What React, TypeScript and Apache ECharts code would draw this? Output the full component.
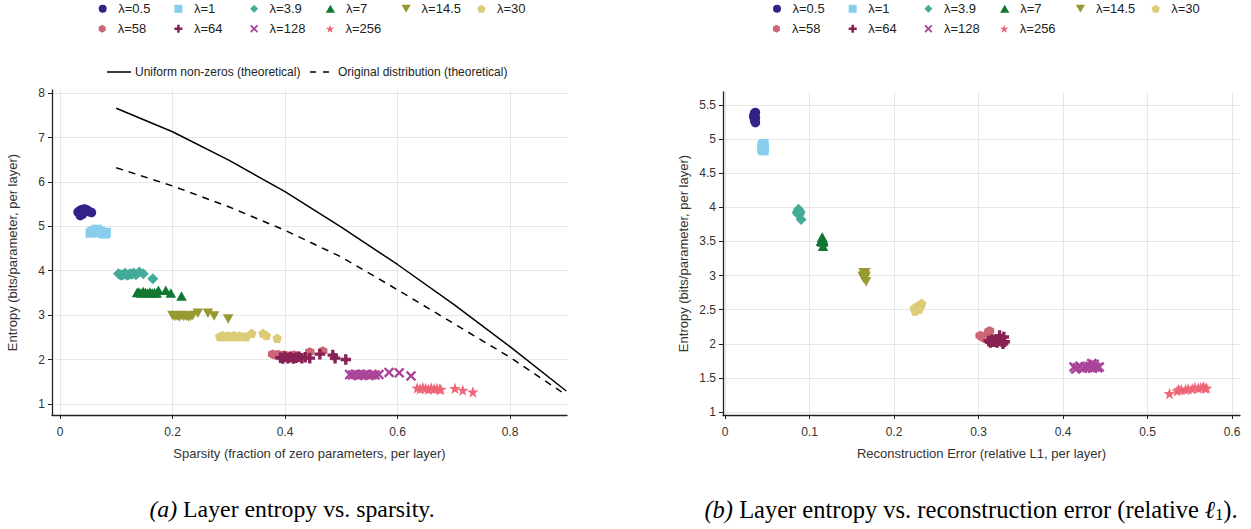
import React, { useEffect, useRef } from 'react';
import * as echarts from 'echarts';

// ---------- data ----------
const lambdaNames = ['λ=0.5', 'λ=1', 'λ=3.9', 'λ=7', 'λ=14.5', 'λ=30', 'λ=58', 'λ=64', 'λ=128', 'λ=256'];
const colors = ['#332288', '#88CCEE', '#44AA99', '#117733', '#999933', '#DDCC77', '#CC6677', '#882255', '#AA4499', '#EE6677'];

const sparsity05 = [0.032, 0.036, 0.04, 0.044, 0.048, 0.052, 0.056, 0.04, 0.045, 0.036];
const entropy05 = [5.32, 5.36, 5.38, 5.39, 5.37, 5.33, 5.31, 5.27, 5.34, 5.24];
const error05 = [0.034, 0.035, 0.035, 0.036, 0.035, 0.035, 0.036, 0.035, 0.034, 0.036];

const sparsity1 = [0.054, 0.057, 0.06, 0.062, 0.064, 0.066, 0.068, 0.07, 0.072, 0.076, 0.08, 0.082];
const entropy1 = [4.85, 4.88, 4.9, 4.87, 4.92, 4.93, 4.9, 4.86, 4.88, 4.84, 4.83, 4.86];
const error1 = [0.044, 0.045, 0.045, 0.046, 0.045, 0.046, 0.044, 0.045, 0.046, 0.045, 0.046, 0.044];

const sparsity39 = [0.104, 0.107, 0.11, 0.113, 0.116, 0.119, 0.122, 0.125, 0.128, 0.131, 0.135, 0.141, 0.148, 0.165];
const entropy39 = [3.93, 3.91, 3.9, 3.92, 3.94, 3.9, 3.91, 3.93, 3.92, 3.95, 3.91, 3.97, 3.93, 3.82];
const error39 = [0.086, 0.086, 0.087, 0.086, 0.087, 0.088, 0.087, 0.086, 0.088, 0.087, 0.087, 0.087, 0.089, 0.09];

const sparsity7 = [0.137, 0.14, 0.144, 0.148, 0.152, 0.156, 0.16, 0.164, 0.168, 0.172, 0.175, 0.188, 0.197, 0.216];
const entropy7 = [3.51, 3.52, 3.5, 3.53, 3.51, 3.5, 3.52, 3.5, 3.51, 3.5, 3.56, 3.56, 3.5, 3.43];
const error7 = [0.114, 0.115, 0.115, 0.116, 0.114, 0.115, 0.116, 0.115, 0.114, 0.116, 0.115, 0.115, 0.116, 0.116];

const sparsity145 = [0.2, 0.204, 0.208, 0.212, 0.216, 0.22, 0.224, 0.228, 0.232, 0.236, 0.245, 0.263, 0.274, 0.299];
const entropy145 = [2.99, 2.97, 2.98, 2.96, 2.99, 2.97, 2.98, 2.96, 2.97, 2.99, 3.04, 3.04, 2.98, 2.91];
const error145 = [0.163, 0.164, 0.165, 0.164, 0.166, 0.165, 0.164, 0.165, 0.166, 0.165, 0.164, 0.166, 0.165, 0.167];

const sparsity30 = [0.284, 0.289, 0.294, 0.299, 0.304, 0.309, 0.314, 0.319, 0.324, 0.331, 0.341, 0.361, 0.367, 0.386];
const entropy30 = [2.52, 2.54, 2.51, 2.53, 2.52, 2.54, 2.51, 2.53, 2.52, 2.51, 2.59, 2.59, 2.54, 2.48];
const error30 = [0.224, 0.226, 0.227, 0.228, 0.229, 0.23, 0.226, 0.228, 0.229, 0.23, 0.232, 0.233, 0.227, 0.225];

const sparsity58 = [0.378, 0.383, 0.388, 0.393, 0.398, 0.404, 0.41, 0.416, 0.422, 0.444, 0.467];
const entropy58 = [2.12, 2.1, 2.11, 2.09, 2.1, 2.08, 2.09, 2.1, 2.08, 2.17, 2.19];
const error58 = [0.302, 0.304, 0.305, 0.306, 0.307, 0.308, 0.309, 0.31, 0.311, 0.312, 0.313];

const sparsity64 = [0.392, 0.396, 0.4, 0.405, 0.41, 0.415, 0.42, 0.425, 0.43, 0.436, 0.444, 0.462, 0.485, 0.489, 0.508];
const entropy64 = [2.04, 2.02, 2.06, 2.03, 2.05, 2.02, 2.04, 2.06, 2.03, 2.05, 2.03, 2.12, 2.1, 2.03, 2.0];
const error64 = [0.312, 0.314, 0.316, 0.318, 0.32, 0.322, 0.324, 0.326, 0.328, 0.316, 0.32, 0.325, 0.33, 0.331, 0.329];

const sparsity128 = [0.515, 0.52, 0.525, 0.53, 0.535, 0.54, 0.545, 0.55, 0.555, 0.56, 0.567, 0.585, 0.603, 0.624];
const entropy128 = [1.66, 1.65, 1.67, 1.64, 1.66, 1.65, 1.67, 1.64, 1.66, 1.65, 1.66, 1.71, 1.7, 1.63];
const error128 = [0.413, 0.417, 0.42, 0.423, 0.426, 0.429, 0.432, 0.435, 0.438, 0.441, 0.443, 0.434, 0.437, 0.415];

const sparsity256 = [0.635, 0.64, 0.645, 0.65, 0.655, 0.66, 0.665, 0.67, 0.675, 0.677, 0.702, 0.716, 0.734];
const entropy256 = [1.36, 1.34, 1.37, 1.35, 1.33, 1.36, 1.34, 1.35, 1.33, 1.33, 1.35, 1.31, 1.27];
const error256 = [0.556, 0.548, 0.566, 0.56, 0.54, 0.563, 0.553, 0.568, 0.545, 0.537, 0.57, 0.535, 0.526];

const sparsityAll = [sparsity05, sparsity1, sparsity39, sparsity7, sparsity145, sparsity30, sparsity58, sparsity64, sparsity128, sparsity256];
const entropyAll = [entropy05, entropy1, entropy39, entropy7, entropy145, entropy30, entropy58, entropy64, entropy128, entropy256];
const errorAll = [error05, error1, error39, error7, error145, error30, error58, error64, error128, error256];

const theorySparsity = [0.1, 0.2, 0.3, 0.4, 0.5, 0.6, 0.7, 0.8, 0.9];
const uniformEntropy = [7.66, 7.13, 6.49, 5.78, 4.98, 4.14, 3.24, 2.29, 1.29];
const originalEntropy = [6.32, 5.91, 5.44, 4.91, 4.31, 3.57, 2.81, 2.05, 1.2];

const xTicksA = [0, 0.2, 0.4, 0.6, 0.8];
const yTicksA = [1, 2, 3, 4, 5, 6, 7, 8];
const xTicksB = [0, 0.1, 0.2, 0.3, 0.4, 0.5, 0.6];
const yTicksB = [1, 1.5, 2, 2.5, 3, 3.5, 4, 4.5, 5, 5.5];

// ---------- symbols ----------
const SYM = {
  circle: 'path://M5,0A5,5,0,1,1,5,10A5,5,0,1,1,5,0Z',
  square: 'path://M0,0H10V10H0Z',
  diamond: 'path://M5,0L10,5L5,10L0,5Z',
  triangle: 'path://M5,0L10,8.7L0,8.7Z',
  down: 'path://M0,0L10,0L5,8.7Z',
  pentagon: 'path://M5,0L9.76,3.45L7.94,9.05L2.06,9.05L0.24,3.45Z',
  hexagon: 'path://M5,0L9.33,2.5L9.33,7.5L5,10L0.67,7.5L0.67,2.5Z',
  plus: 'path://M3.4,0H6.6V3.4H10V6.6H6.6V10H3.4V6.6H0V3.4H3.4Z',
  cross: 'path://M1.6,0L5,3.4L8.4,0L10,1.6L6.6,5L10,8.4L8.4,10L5,6.6L1.6,10L0,8.4L3.4,5L0,1.6Z',
  star: 'path://M5,0L6.18,3.38L9.76,3.45L6.9,5.62L7.94,9.05L5,7L2.06,9.05L3.1,5.62L0.24,3.45L3.82,3.38Z',
};
const symbols = [SYM.circle, SYM.square, SYM.diamond, SYM.triangle, SYM.down, SYM.pentagon, SYM.hexagon, SYM.plus, SYM.cross, SYM.star];
const symbolSizes: any[] = [9.5, 9.5, 11, [10.5, 9.5], [10.5, 9.5], 9.5, 9.5, 10.5, 10.5, 11.5];

const FONT = '"Liberation Sans", Arial, sans-serif';
const SERIF = '"Liberation Serif", "Times New Roman", serif';

const legendRowX = (x0: number) => [0, 1, 2, 3, 4, 5].map((i) => x0 + i * 75.7);

function buildLegends(x0: number) {
  const xs = legendRowX(x0);
  return lambdaNames.map((name, i) => {
    const row = i < 6 ? 0 : 1;
    const col = i < 6 ? i : i - 6;
    return {
      data: [{ name, icon: symbols[i] }],
      left: xs[col] - 4,
      top: row === 0 ? 2.3 : 22.3,
      itemWidth: 21,
      itemHeight: 8,
      padding: 0,
      selectedMode: false,
      textStyle: { fontSize: 13, color: '#222', fontFamily: FONT },
    };
  });
}

function axisCommon(ticks: number[], labelMargin: number) {
  return {
    type: 'value',
    axisLine: { show: true, onZero: false, lineStyle: { color: '#222', width: 1.3 } },
    axisTick: { show: true, length: 4, customValues: ticks, lineStyle: { color: '#222', width: 1 } },
    axisLabel: { customValues: ticks, color: '#333', fontSize: 12, fontFamily: FONT, margin: labelMargin },
    splitLine: { show: true, lineStyle: { color: '#e6e6e6', width: 1 } },
    nameLocation: 'middle',
    nameTextStyle: { fontSize: 13, color: '#333', fontFamily: FONT },
  };
}

export default function App() {
  const ref = useRef<HTMLDivElement>(null);
  useEffect(() => {
    if (!ref.current) return;
    const chart = echarts.init(ref.current, undefined, { renderer: 'svg' });

    const series: any[] = [];
    lambdaNames.forEach((name, i) => {
      series.push({
        type: 'scatter',
        name,
        xAxisIndex: 0,
        yAxisIndex: 0,
        symbol: symbols[i],
        symbolSize: symbolSizes[i],
        itemStyle: { color: colors[i], opacity: 1 },
        data: sparsityAll[i].map((s, k) => [s, entropyAll[i][k]]),
        z: 3,
      });
      series.push({
        type: 'scatter',
        name,
        xAxisIndex: 1,
        yAxisIndex: 1,
        symbol: symbols[i],
        symbolSize: symbolSizes[i],
        itemStyle: { color: colors[i], opacity: 1 },
        data: errorAll[i].map((e, k) => [e, entropyAll[i][k]]),
        z: 3,
      });
    });
    series.push({
      type: 'line',
      name: 'Uniform non-zeros (theoretical)',
      xAxisIndex: 0,
      yAxisIndex: 0,
      showSymbol: false,
      symbol: 'none',
      lineStyle: { color: '#000', width: 1.5 },
      itemStyle: { color: '#000' },
      data: theorySparsity.map((s, k) => [s, uniformEntropy[k]]),
      z: 2,
    });
    series.push({
      type: 'line',
      name: 'Original distribution (theoretical)',
      xAxisIndex: 0,
      yAxisIndex: 0,
      showSymbol: false,
      symbol: 'none',
      lineStyle: { color: '#000', width: 1.5, type: [7, 6] },
      itemStyle: { color: '#000' },
      data: theorySparsity.map((s, k) => [s, originalEntropy[k]]),
      z: 2,
    });

    const option: any = {
      animation: false,
      backgroundColor: '#ffffff',
      legend: [...buildLegends(102.7), ...buildLegends(777)],
      grid: [
        { left: 52, top: 90, width: 515, height: 325, containLabel: false },
        { left: 723, top: 92, width: 517, height: 323, containLabel: false },
      ],
      xAxis: [
        {
          ...axisCommon(xTicksA, 11),
          gridIndex: 0,
          min: -0.0142,
          max: 0.9013,
          name: 'Sparsity (fraction of zero parameters, per layer)',
          nameGap: 32,
        },
        {
          ...axisCommon(xTicksB, 11),
          gridIndex: 1,
          min: -0.0024,
          max: 0.6095,
          name: 'Reconstruction Error (relative L1, per layer)',
          nameGap: 32,
        },
      ],
      yAxis: [
        {
          ...axisCommon(yTicksA, 7),
          gridIndex: 0,
          min: 0.75,
          max: 8.07,
          name: 'Entropy (bits/parameter, per layer)',
          nameGap: 33,
        },
        {
          ...axisCommon(yTicksB, 7),
          gridIndex: 1,
          min: 0.956,
          max: 5.69,
          name: 'Entropy (bits/parameter, per layer)',
          nameGap: 33,
        },
      ],
      graphic: [
        { type: 'line', shape: { x1: 107, y1: 72, x2: 131, y2: 72 }, style: { stroke: '#000', lineWidth: 1.5 } },
        {
          type: 'text', x: 135, y: 72,
          style: { text: 'Uniform non-zeros (theoretical)', fontSize: 12, fontFamily: FONT, fill: '#222', verticalAlign: 'middle', align: 'left' },
        },
        { type: 'line', shape: { x1: 310, y1: 72, x2: 332, y2: 72 }, style: { stroke: '#000', lineWidth: 1.5, lineDash: [6, 7] } },
        {
          type: 'text', x: 338, y: 72,
          style: { text: 'Original distribution (theoretical)', fontSize: 12, fontFamily: FONT, fill: '#222', verticalAlign: 'middle', align: 'left' },
        },
        {
          type: 'text', x: 292, y: 509,
          style: {
            text: '{i|(a)} Layer entropy vs. sparsity.',
            fontSize: 23.8, fontFamily: SERIF, fill: '#000', align: 'center', verticalAlign: 'middle',
            rich: { i: { fontStyle: 'italic', fontSize: 23.8, fontFamily: SERIF, fill: '#000' } },
          },
        },
        {
          type: 'text', x: 971, y: 509,
          style: {
            text: '{i|(b)} Layer entropy vs. reconstruction error (relative {i|ℓ}{s|1}).',
            fontSize: 24.5, fontFamily: SERIF, fill: '#000', align: 'center', verticalAlign: 'middle',
            rich: {
              i: { fontStyle: 'italic', fontSize: 24.5, fontFamily: SERIF, fill: '#000' },
              s: { fontSize: 16, fontFamily: SERIF, fill: '#000', padding: [10, 0, 0, 0] },
            },
          },
        },
      ],
      series,
    };
    chart.setOption(option);
    return () => chart.dispose();
  }, []);
  return (
    <div
      ref={ref}
      style={{ position: 'fixed', left: 0, top: 0, width: 1251, height: 529, background: '#fff' }}
    />
  );
}
